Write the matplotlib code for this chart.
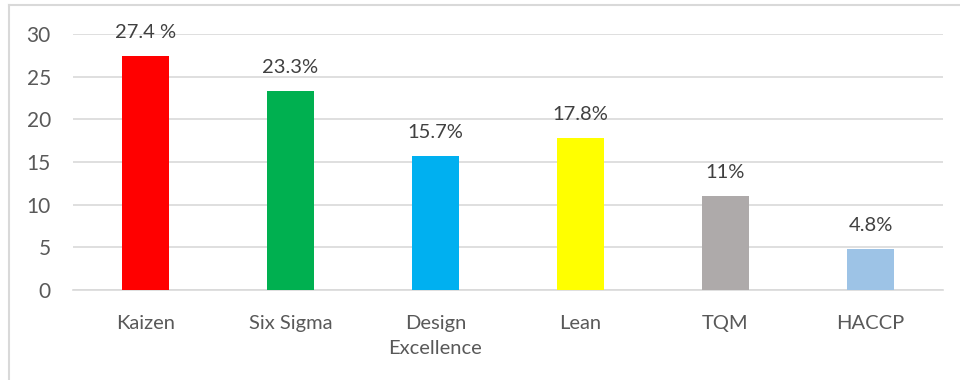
import matplotlib
matplotlib.use("Agg")
import matplotlib.pyplot as plt
from matplotlib.lines import Line2D

categories = ["Kaizen", "Six Sigma", "Design\nExcellence", "Lean", "TQM", "HACCP"]
values = [27.4, 23.3, 15.7, 17.8, 11, 4.8]
value_labels = ["27.4 %", "23.3%", "15.7%", "17.8%", "11%", "4.8%"]
colors = ["#FF0000", "#00B050", "#00B0F0", "#FFFF00", "#AEAAAA", "#9DC3E6"]
yticks = [0, 5, 10, 15, 20, 25, 30]

plt.rcParams['font.family'] = ['Lato', 'DejaVu Sans']

W, H = 960, 380
fig = plt.figure(figsize=(9.6, 3.8), dpi=100)
ax = fig.add_axes([73 / W, 1 - 290 / H, (943 - 73) / W, (290 - 34) / H])

x = list(range(len(categories)))
ax.bar(x, values, width=0.32, color=colors, zorder=3)
ax.set_xlim(-0.5, len(categories) - 0.5)
ax.set_ylim(0, 30)
ax.set_yticks(yticks)
ax.set_xticks(x)
ax.set_xticklabels(categories, fontsize=14.5, color="#595959", linespacing=1.55)
ax.tick_params(axis="y", labelsize=15, labelcolor="#595959", length=0, pad=16)
ax.tick_params(axis="x", length=0, pad=18)
ax.grid(axis="y", color="#D9D9D9", linewidth=1.2, zorder=0)
for s in ["top", "right", "left"]:
    ax.spines[s].set_visible(False)
ax.spines["bottom"].set_color("#D9D9D9")
ax.spines["bottom"].set_linewidth(1.2)

for xi, v, lab in zip(x, values, value_labels):
    ax.annotate(lab, (xi, v), xytext=(0, 17), textcoords="offset points",
                ha="center", va="center", fontsize=14.5, color="#404040",
                annotation_clip=False, zorder=4)

# outer chart border (top and left visible)
fig.add_artist(Line2D([9 / W, 1], [1 - 5 / H, 1 - 5 / H], color="#D9D9D9", linewidth=1.5))
fig.add_artist(Line2D([9 / W, 9 / W], [0, 1 - 5 / H], color="#D9D9D9", linewidth=1.5))

fig.savefig("out.png", dpi=100, facecolor="white")
